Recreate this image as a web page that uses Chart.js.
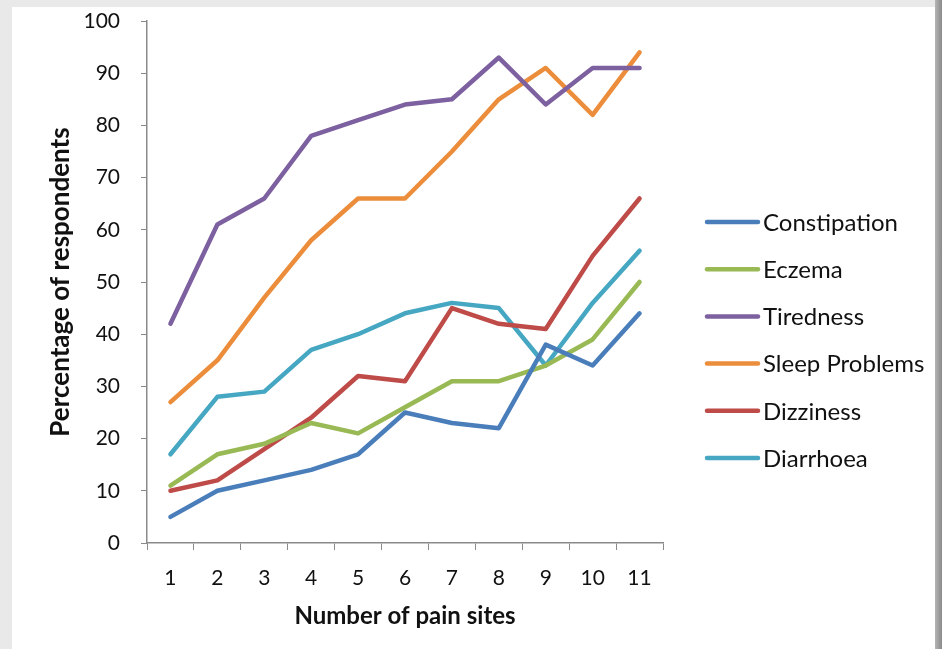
<!DOCTYPE html>
<html>
<head>
<meta charset="utf-8">
<script src="https://cdn.jsdelivr.net/npm/chart.js@4/dist/chart.umd.min.js"></script>
<style>
  html, body { margin: 0; padding: 0; width: 942px; height: 649px; overflow: hidden; background: #e9e9e9; }
  #card { position: absolute; left: 12px; top: 7px; width: 923px; height: 642px; background: #ffffff; }
  #edge { position: absolute; left: 935px; top: 0; width: 7px; height: 649px; background: linear-gradient(to right, #b5b5b5, #8a8a8a); }
  canvas { display: block; }
</style>
</head>
<body>
<div id="card"><canvas id="c" width="923" height="642"></canvas></div>
<div id="edge"></div>
<script>
const categories = ['1','2','3','4','5','6','7','8','9','10','11'];
const constipation = [5, 10, 12, 14, 17, 25, 23, 22, 38, 34, 44];
const eczema       = [11, 17, 19, 23, 21, 26, 31, 31, 34, 39, 50];
const tiredness    = [42, 61, 66, 78, 81, 84, 85, 93, 84, 91, 91];
const sleepProblems= [27, 35, 47, 58, 66, 66, 75, 85, 91, 82, 94];
const dizziness    = [10, 12, 18, 24, 32, 31, 45, 42, 41, 55, 66];
const diarrhoea    = [17, 28, 29, 37, 40, 44, 46, 45, 34, 46, 56];
const seriesNames  = ['Constipation','Eczema','Tiredness','Sleep Problems','Dizziness','Diarrhoea'];
const seriesColors = ['#4a7ebb','#98b954','#7d60a0','#ec8d3c','#be4b48','#45a7c2'];
const seriesData   = [constipation, eczema, tiredness, sleepProblems, dizziness, diarrhoea];

const FONT = 'Lato, "Open Sans", sans-serif';

const datasets = seriesNames.map((n, i) => ({
  label: n,
  data: seriesData[i],
  borderColor: seriesColors[i],
  backgroundColor: seriesColors[i],
  borderWidth: 4.5,
  pointRadius: 0,
  tension: 0,
  fill: false,
  borderCapStyle: 'round',
  borderJoinStyle: 'round'
}));

// Legend drawn on the canvas from the chart's own datasets
const sideLegend = {
  id: 'sideLegend',
  afterDraw(chart, args, opts) {
    const ctx = chart.ctx;
    ctx.save();
    ctx.font = opts.fontSize + 'px ' + FONT;
    ctx.textBaseline = 'middle';
    ctx.textAlign = 'left';
    chart.data.datasets.forEach((ds, i) => {
      const y = opts.top + i * opts.rowGap;
      ctx.strokeStyle = ds.borderColor;
      ctx.lineWidth = 4.5;
      ctx.lineCap = 'round';
      ctx.beginPath();
      ctx.moveTo(opts.lineX0, y);
      ctx.lineTo(opts.lineX1, y);
      ctx.stroke();
      ctx.fillStyle = '#111';
      ctx.fillText(ds.label, opts.textX, y + 1);
    });
    ctx.restore();
  }
};

new Chart(document.getElementById('c'), {
  type: 'line',
  data: { labels: categories, datasets },
  plugins: [sideLegend],
  options: {
    responsive: false,
    animation: false,
    layout: { padding: { top: 14, right: 272, bottom: 0, left: 0 } },
    plugins: {
      tooltip: { enabled: false },
      legend: { display: false },
      sideLegend: { top: 215, rowGap: 47.2, lineX0: 695, lineX1: 746, textX: 751, fontSize: 24 }
    },
    scales: {
      x: {
        offset: true,
        grid: { display: true, drawOnChartArea: false, drawTicks: true, tickLength: 7, color: '#8a8a8a', offset: true },
        border: { display: true, color: '#8a8a8a', width: 1.5 },
        ticks: { font: { family: FONT, size: 21 }, color: '#111', padding: 16, maxRotation: 0 },
        title: { display: true, text: 'Number of pain sites', font: { family: FONT, size: 24, weight: 'bold' }, color: '#111', padding: { top: 0, bottom: 18 } },
        afterFit: (s) => { s.height = 106; }
      },
      y: {
        min: 0, max: 100,
        ticks: { stepSize: 10, font: { family: FONT, size: 21 }, color: '#111', padding: 21 },
        grid: { display: true, drawOnChartArea: false, drawTicks: true, tickLength: 6, color: '#8a8a8a' },
        border: { display: true, color: '#8a8a8a', width: 1.5 },
        title: { display: true, text: 'Percentage of respondents', font: { family: FONT, size: 26, weight: 'bold' }, color: '#111', padding: { top: 33, bottom: 0 } },
        afterFit: (s) => { s.width = 135; s.paddingTop = 10; s.paddingBottom = 10; }
      }
    }
  }
});
</script>
</body>
</html>
